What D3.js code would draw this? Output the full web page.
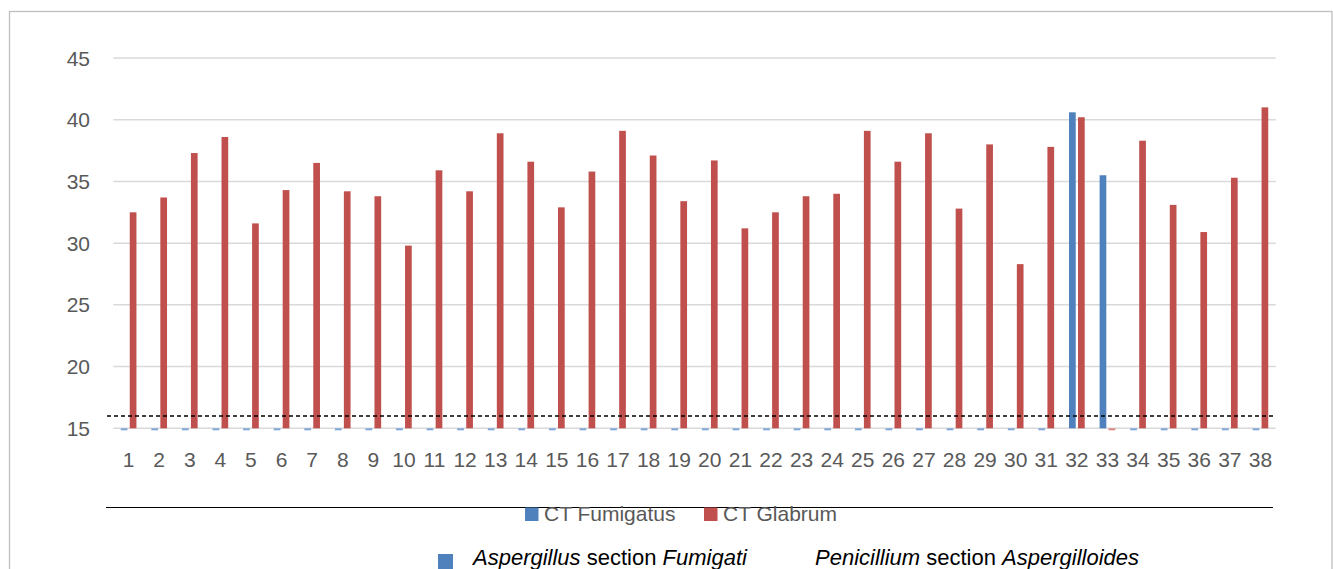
<!DOCTYPE html>
<html>
<head>
<meta charset="utf-8">
<script src="https://cdn.jsdelivr.net/npm/d3@7"></script>
<style>
  html, body { margin: 0; padding: 0; background: #fff; }
  svg { display: block; }
  text { font-family: "Liberation Sans", Arial, sans-serif; }
</style>
</head>
<body>
<svg id="chart" width="1333" height="569"></svg>
<script>
// ---- data ----
const categories = d3.range(1, 39).map(String);
const seriesNames = ["CT Fumigatus", "CT Glabrum"];
const seriesColors = ["#4F81BD", "#C0504D"];
const zeroColors = ["#7FA6D6", "#D98583"];
// 0 = not detected (below axis minimum)
const ctFumigatus = [0,0,0,0,0,0,0,0,0,0,0,0,0,0,0,0,0,0,0,0,0,0,0,0,0,0,0,0,0,0,0,40.6,35.5,0,0,0,0,0];
const ctGlabrum = [32.5,33.7,37.3,38.6,31.6,34.3,36.5,34.2,33.8,29.8,
                   35.9,34.2,38.9,36.6,32.9,35.8,39.1,37.1,33.4,36.7,
                   31.2,32.5,33.8,34.0,39.1,36.6,38.9,32.8,38.0,28.3,
                   37.8,40.2,0,38.3,33.1,30.9,35.3,41.0];
const yTicks = [15, 20, 25, 30, 35, 40, 45];
const threshold = 16;
const footnotes = [
  [{t: "Aspergillus", i: true}, {t: " section ", i: false}, {t: "Fumigati", i: true}],
  [{t: "Penicillium", i: true}, {t: " section ", i: false}, {t: "Aspergilloides", i: true}]
];

const svg = d3.select("#chart");

// outer frame
svg.append("rect")
  .attr("x", 9.5).attr("y", 11.5)
  .attr("width", 1322.5).attr("height", 600)
  .attr("fill", "none").attr("stroke", "#bfbfbf").attr("stroke-width", 1.3);

const left = 113.3, right = 1275.7;
const y = d3.scaleLinear().domain([15, 45]).range([428.3, 58]);
const x0 = d3.scaleBand().domain(categories).range([left, right])
  .paddingInner(0.487).paddingOuter(0.2435);
const x1 = d3.scaleBand().domain(seriesNames).range([0, x0.bandwidth()]).paddingInner(0.256);

// gridlines
svg.append("g").selectAll("line").data(yTicks).join("line")
  .attr("x1", left).attr("x2", right)
  .attr("y1", d => y(d)).attr("y2", d => y(d))
  .attr("stroke", "#d9d9d9").attr("stroke-width", 1.5);

// y labels
svg.append("g").selectAll("text").data(yTicks).join("text")
  .attr("x", 90).attr("y", d => y(d)).attr("dy", "0.36em")
  .attr("text-anchor", "end").attr("font-size", 21).attr("fill", "#595959")
  .text(d => d);

// x labels
svg.append("g").selectAll("text").data(categories).join("text")
  .attr("x", d => x0(d) + x0.bandwidth() / 2).attr("y", 466.5)
  .attr("text-anchor", "middle").attr("font-size", 21).attr("fill", "#595959")
  .text(d => d);

// bars
const series = [ctFumigatus, ctGlabrum];
const barData = [];
categories.forEach((c, i) => {
  seriesNames.forEach((s, j) => barData.push({c, s, j, v: series[j][i]}));
});
const yMin = y.domain()[0];
svg.append("g").selectAll("rect").data(barData).join("rect")
  .attr("x", d => x0(d.c) + x1(d.s))
  .attr("width", x1.bandwidth())
  .attr("y", d => d.v > yMin ? y(d.v) : y(yMin))
  .attr("height", d => d.v > yMin ? y(yMin) - y(d.v) : 2)
  .attr("fill", d => d.v > yMin ? seriesColors[d.j] : zeroColors[d.j]);

// threshold dashed line
svg.append("line")
  .attr("x1", 107).attr("x2", right)
  .attr("y1", y(threshold)).attr("y2", y(threshold))
  .attr("stroke", "#000").attr("stroke-width", 1.5)
  .attr("stroke-dasharray", "4,3");

// legend separator line
svg.append("line")
  .attr("x1", 106).attr("x2", 1273).attr("y1", 507.5).attr("y2", 507.5)
  .attr("stroke", "#000").attr("stroke-width", 1.2);

// legend
const legendX = [525, 704];
const lg = svg.append("g").selectAll("g").data(seriesNames).join("g")
  .attr("transform", (d, i) => `translate(${legendX[i]},0)`);
lg.append("rect").attr("x", 0).attr("y", 507.5).attr("width", 13.5).attr("height", 13.5)
  .attr("fill", (d, i) => seriesColors[i]);
lg.append("text").attr("x", 19).attr("y", 521).attr("font-size", 21).attr("fill", "#595959")
  .text(d => d);

// footnote
svg.append("rect").attr("x", 438).attr("y", 554).attr("width", 15).attr("height", 15)
  .attr("fill", "#4F81BD");
const footX = [473, 815];
footnotes.forEach((parts, k) => {
  const t = svg.append("text").attr("x", footX[k]).attr("y", 565)
    .attr("font-size", 22).attr("fill", "#000");
  parts.forEach(p => {
    t.append("tspan").attr("font-style", p.i ? "italic" : "normal").text(p.t);
  });
});
</script>
</body>
</html>
